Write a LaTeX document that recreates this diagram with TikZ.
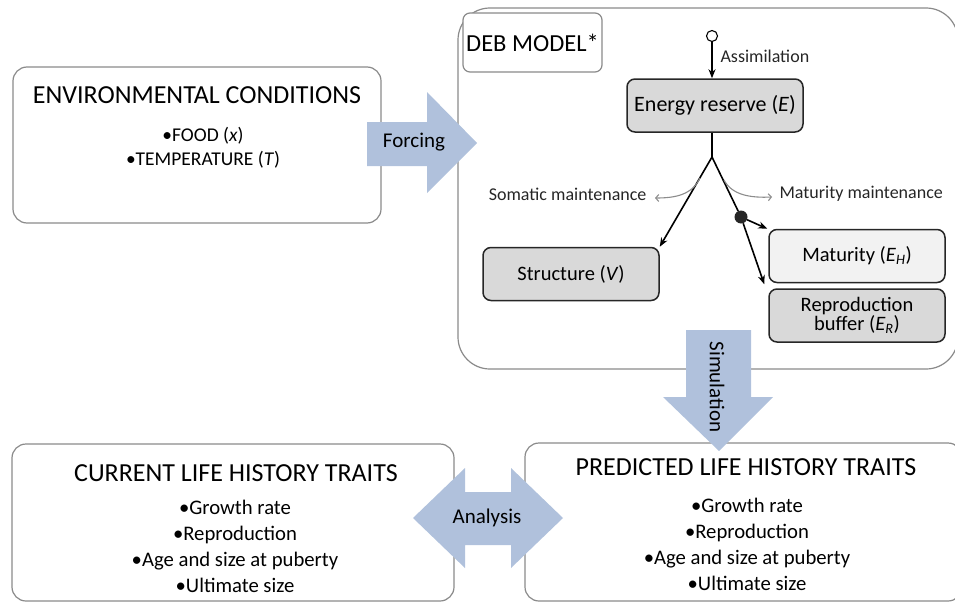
\documentclass[tikz,border=0pt]{standalone}
\usepackage{fontspec}
\setmainfont{Carlito}
\usetikzlibrary{arrows.meta}

\definecolor{framegray}{HTML}{8A8A8A}
\definecolor{arrowblue}{HTML}{B0C1DC}
\definecolor{poolgray}{HTML}{D9D9D9}
\definecolor{palegray}{HTML}{F2F2F2}
\definecolor{lossgray}{HTML}{8C8C8C}

\tikzset{
  outerbox/.style={draw=framegray, line width=1.2pt, rounded corners=14pt, inner sep=0pt},
  poolbox/.style={draw=black!85, line width=1.5pt, fill=poolgray, rounded corners=8pt,
    minimum width=176pt, minimum height=53pt, align=center, font=\fontsize{20.5}{19}\selectfont},
  fatarrow/.style={fill=arrowblue},
  flux/.style={line width=1.6pt, -{Stealth[length=9pt,width=7pt]}},
  loss/.style={draw=lossgray, line width=1.1pt, -{Straight Barb[length=3pt,width=7pt]}},
  boxtitle/.style={font=\fontsize{26}{26}\selectfont},
  itemlist/.style={font=\fontsize{20.7}{26}\selectfont, align=center},
  flowlabel/.style={font=\fontsize{18}{18}\selectfont, text=black!85},
  arrowlabel/.style={font=\fontsize{21}{21}\selectfont}
}

\begin{document}
\begin{tikzpicture}[x=1pt,y=-1pt]
\useasboundingbox (0,0) rectangle (955,602);

% frames
\node[outerbox, minimum width=368pt, minimum height=156pt] (env) at (197,145) {};
\node[outerbox, rounded corners=32pt, minimum width=500pt, minimum height=361pt] (deb) at (708,188.5) {};
\node[outerbox, rounded corners=7pt, fill=white, minimum width=139pt, minimum height=59pt, font=\fontsize{24.5}{24.5}\selectfont] (debname) at (532.5,42.5) {DEB MODEL*};
\node[outerbox, minimum width=442pt, minimum height=157pt] (current) at (233,522.5) {};
\node[outerbox, minimum width=437pt, minimum height=158pt] (predicted) at (743.5,522) {};

% environment
\node[boxtitle] (envtitle) at (197,95) {ENVIRONMENTAL CONDITIONS};
\node[itemlist, font=\fontsize{19.5}{24}\selectfont] (envitems) at (203,148) {•FOOD (\textit{x})\\•TEMPERATURE (\textit{T})};

% DEB pools
\node[poolbox, font=\fontsize{22}{22}\selectfont] (energy) at (715,105.5) {Energy reserve (\textit{E})};
\node[poolbox] (structure) at (571,274) {Structure (\textit{V})};
\node[poolbox, fill=palegray] (maturity) at (857,256) {Maturity (\textit{E}\textsubscript{\textit{H}})};
\node[poolbox] (repro) at (857,315.5) {Reproduction\\buffer (\textit{E}\textsubscript{\textit{R}})};

\node[circle, draw, line width=1.1pt, fill=white, minimum size=11pt, inner sep=0pt] (circ) at (712,36) {};
\coordinate (branch) at (712,157);
\node[circle, fill=black!85, minimum size=13pt, inner sep=0pt] (dot) at (741,217) {};

\draw[flux] (circ) -- (circ |- energy.north);
\node[flowlabel, anchor=west] (assim) at (717,56) {Assimilation};
\draw[line width=1.6pt] (branch |- energy.south) -- (branch);
\draw[flux] (branch) -- (structure.north east);
\draw[line width=1.6pt] (branch) -- (dot);
\draw[flux] (dot) -- ([xshift=-1pt]maturity.north west);
\draw[flux] (dot) -- ([xshift=-4pt,yshift=4pt]repro.north west);

% maintenance losses
\draw[loss] (700,178) .. controls (692,195) and (675,198) .. (655,198);
\draw[loss] (724,180) .. controls (732,195) and (750,198) .. (772,197);
\node[flowlabel, anchor=east] (somatic) at (650,194) {Somatic maintenance};
\node[flowlabel, anchor=west] (matmaint) at (776,194) {Maturity maintenance};

% block arrows
\fill[fatarrow] (367,122) -- (427,122) -- (427,92) -- (477,143) -- (427,193) -- (427,166) -- (367,166) -- cycle;
\node[arrowlabel] (forcing) at (414,142) {Forcing};

\fill[fatarrow] (686,330) -- (751,330) -- (751,397) -- (773,397) -- (719,451) -- (663,397) -- (686,397) -- cycle;
\node[arrowlabel, rotate=-90] (simulation) at (717,387) {Simulation};

\fill[fatarrow] (413,518) -- (465,468) -- (465,492) -- (511,492) -- (511,468) -- (563,518)
  -- (511,568) -- (511,545) -- (465,545) -- (465,568) -- cycle;
\node[arrowlabel] (analysis) at (487,518) {Analysis};

% life history traits
\node[boxtitle] (curtitle) at (236,473) {CURRENT LIFE HISTORY TRAITS};
\node[itemlist] (curitems) at (235,546) {•Growth rate\\•Reproduction\\•Age and size at puberty\\•Ultimate size};
\node[boxtitle] (predtitle) at (746,467) {PREDICTED LIFE HISTORY TRAITS};
\node[itemlist] (preditems) at (747,544) {•Growth rate\\•Reproduction\\•Age and size at puberty\\•Ultimate size};
\end{tikzpicture}
\end{document}
